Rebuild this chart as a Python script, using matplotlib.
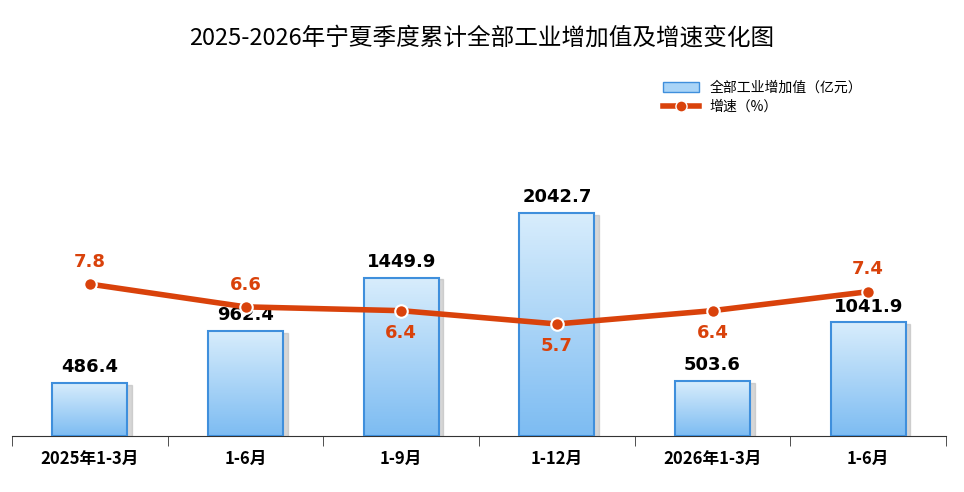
import numpy as np
import matplotlib.pyplot as plt
from matplotlib.lines import Line2D
from matplotlib.patches import Rectangle

plt.rcParams['font.family'] = ['Noto Sans CJK SC', 'DejaVu Sans']

categories = ['2025年1-3月', '1-6月', '1-9月', '1-12月', '2026年1-3月', '1-6月']
values = [486.4, 962.4, 1449.9, 2042.7, 503.6, 1041.9]
growth = [7.8, 6.6, 6.4, 5.7, 6.4, 7.4]
growth_above = [True, True, False, False, False, True]

line_color = '#d9420b'

fig = plt.figure(figsize=(9.64, 4.92), dpi=100)
ax = fig.add_axes([12 / 964, 1 - 436 / 492, 934 / 964, 376 / 492])
x = np.arange(len(categories))
ax.set_xlim(-0.5, len(categories) - 0.5)
ax.set_ylim(0, 3444)

# gradient bars
grad = np.linspace(0, 1, 100).reshape(-1, 1)
cmap = plt.matplotlib.colors.LinearSegmentedColormap.from_list('b', ['#7dbcf2', '#d8edfc'])
w = 0.48
for xi, v in zip(x, values):
    ax.add_patch(Rectangle((xi - w / 2 + 0.03, -15), w, v, color='#bbbbbb', alpha=0.6, zorder=1))
    ax.imshow(grad, cmap=cmap, extent=(xi - w / 2, xi + w / 2, 0, v), origin='lower',
              aspect='auto', zorder=2)
    ax.add_patch(Rectangle((xi - w / 2, 0), w, v, fill=False, edgecolor='#3f8fdc', lw=1.5, zorder=3))
    ax.text(xi, v + 60, f'{v}', ha='center', va='bottom', fontsize=13, fontweight='bold',
            family='DejaVu Sans', zorder=5)
ax.set_xlim(-0.5, len(categories) - 0.5)
ax.set_ylim(0, 3444)

for s in ['top', 'right', 'left']:
    ax.spines[s].set_visible(False)
ax.spines['bottom'].set_color('#333333')
ax.set_yticks([])
ax.set_xticks(x)
ax.set_xticklabels(categories, fontsize=12, fontweight='bold')
ax.tick_params(axis='x', length=0, pad=10)
ax.set_xticks(np.arange(-0.5, len(categories)), minor=True)
ax.tick_params(axis='x', which='minor', length=7, direction='out', color='#333333')

ax2 = ax.twinx()
ax2.set_ylim(-0.2, 19.6)
ax2.axis('off')
ax2.plot(x, growth, color=line_color, lw=4, marker='o', markersize=9,
         markerfacecolor=line_color, markeredgecolor='white', markeredgewidth=1.5, zorder=4)
for xi, g, up in zip(x, growth, growth_above):
    ax2.text(xi, g + (0.7 if up else -0.7), f'{g}', ha='center', va='bottom' if up else 'top',
             fontsize=13, fontweight='bold', color=line_color, family='DejaVu Sans')

fig.text(0.5, 1 - 38 / 492, '2025-2026年宁夏季度累计全部工业增加值及增速变化图',
         ha='center', va='center', fontsize=17)

handles = [Rectangle((0, 0), 1, 1, facecolor='#a9d4f7', edgecolor='#3f8fdc'),
           Line2D([], [], color=line_color, lw=4, marker='o', markersize=8,
                  markerfacecolor=line_color, markeredgecolor='white')]
fig.legend(handles, ['全部工业增加值（亿元）', '增速（%）'], loc='upper left',
           bbox_to_anchor=(650 / 964, 1 - 68 / 492), frameon=False, fontsize=10,
           handlelength=2.6, labelspacing=0.4)

fig.savefig('out.png', dpi=100)
